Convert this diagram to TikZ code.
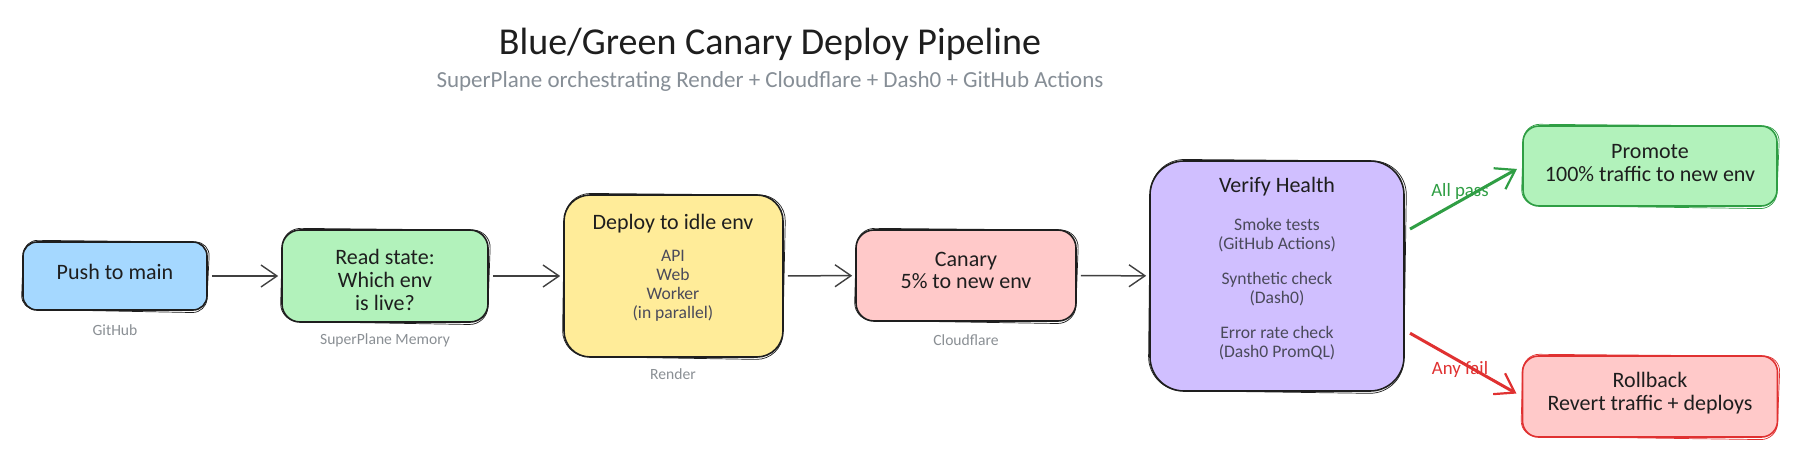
\documentclass[tikz,border=0pt]{standalone}
\usepackage{fontspec}
\setmainfont{Carlito}
\usetikzlibrary{arrows.meta,calc}
\definecolor{inkc}{HTML}{1E1E1E}
\definecolor{subc}{HTML}{868E96}
\definecolor{capc}{HTML}{8A8F94}
\definecolor{detc}{HTML}{4A4A5A}
\definecolor{fblue}{HTML}{A5D8FF}
\definecolor{fgreen}{HTML}{B2F2BB}
\definecolor{fyellow}{HTML}{FFEC99}
\definecolor{fred}{HTML}{FFC9C9}
\definecolor{fviolet}{HTML}{D0BFFF}
\definecolor{sgreen}{HTML}{2F9E44}
\definecolor{sred}{HTML}{E03131}
\tikzset{
  x=0.5pt,y=-0.5pt,
  box/.style={draw=inkc,line width=0.8pt,rounded corners=#1,inner sep=0pt},
  box/.default=9pt,
  main/.style={font=\fontsize{11}{11.3}\selectfont,text=inkc,align=center},
  det/.style={font=\fontsize{8.8}{9.5}\selectfont,text=detc,align=center},
  capt/.style={font=\fontsize{7.8}{9}\selectfont,text=capc},
  note/.style={font=\fontsize{9.4}{10}\selectfont},
  flow/.style={draw=inkc!85,line width=0.75pt,-{Straight Barb[length=8pt,width=11pt,line width=0.7pt]},shorten >=1.5pt,shorten <=2pt},
  okflow/.style={draw=sgreen,line width=1.5pt,-{Straight Barb[length=9pt,width=12pt,line width=1.1pt]},shorten >=3pt,shorten <=3pt},
  badflow/.style={draw=sred,line width=1.5pt,-{Straight Barb[length=9pt,width=12pt,line width=1.1pt]},shorten >=3pt,shorten <=3pt},
}
% name, centre, width, height, fill, stroke, radius, contents
\newcommand{\sketchbox}[8]{%
  \node[box=#7,draw=#6,fill=#5,minimum width={(#3)*0.5pt},minimum height={(#4)*0.5pt}] (#1) at (#2) {};
  \draw[#6,line width=0.35pt,rounded corners=#7]
    ($(#1.south west)+(-1,-1.5)$) -- ($(#1.north west)+(1.5,-1)$) -- ($(#1.north east)+(2,1)$) -- ($(#1.south east)+(-1.5,2)$) -- cycle;
  #8
}
\begin{document}
\begin{tikzpicture}
\useasboundingbox (0,0) rectangle (1800,460);
\fill[white] (0,0) rectangle (1800,460);
\node[font=\fontsize{19}{22}\selectfont,text=inkc] (title) at (770,44) {Blue/Green Canary Deploy Pipeline};
\node[font=\fontsize{11.5}{13}\selectfont,text=subc] (subtitle) at (770,81) {SuperPlane orchestrating Render + Cloudflare + Dash0 + GitHub Actions};

\sketchbox{push}{115,276}{184}{68}{fblue}{inkc}{7pt}{
  \node[main] (pushT) at (115,272) {Push to main};}
\node[capt] (pushC) at (115,330) {GitHub};

\sketchbox{read}{385,276}{206}{92}{fgreen}{inkc}{9pt}{
  \node[main] (readT) at (385,280) {Read state:\\Which env\\is live?};}
\node[capt] (readC) at (385,340) {SuperPlane Memory};

\sketchbox{deploy}{673.5,276}{219}{162}{fyellow}{inkc}{13pt}{
  \node[main] (deployT) at (673,224) {Deploy to idle env};
  \node[det] (deployD) at (673,286) {API\\Web\\Worker\\(in parallel)};}
\node[capt] (deployC) at (673,374) {Render};

\sketchbox{canary}{966,275.5}{220}{91}{fred}{inkc}{9pt}{
  \node[main] (canaryT) at (966,270.5) {Canary\\5\% to new env};}
\node[capt] (canaryC) at (966,340) {Cloudflare};

\sketchbox{verify}{1277,276}{254}{230}{fviolet}{inkc}{17pt}{
  \node[main] (verifyT) at (1277,187) {Verify Health};
  \node[det] (verifyA) at (1277,235) {Smoke tests\\(GitHub Actions)};
  \node[det] (verifyB) at (1277,289) {Synthetic check\\(Dash0)};
  \node[det] (verifyC) at (1277,343) {Error rate check\\(Dash0 PromQL)};}

\sketchbox{promote}{1650,166}{254}{80}{fgreen}{sgreen}{8pt}{
  \node[main] (promoteT) at (1650,163) {Promote\\100\% traffic to new env};}
\sketchbox{rollback}{1650,396.5}{255}{81}{fred}{sred}{8pt}{
  \node[main] (rollbackT) at (1650,393) {Rollback\\Revert traffic + deploys};}

\draw[flow] (push) -- (read);
\draw[flow] (read) -- (deploy);
\draw[flow] (deploy) -- (canary);
\draw[flow] (canary) -- (verify);
\draw[okflow] (verify.19) -- (promote.west);
\draw[badflow] (verify.-23) -- (rollback.west);
\node[note,text=sgreen] (passL) at (1460,191) {All pass};
\node[note,text=sred] (failL) at (1460,369) {Any fail};
\end{tikzpicture}
\end{document}
